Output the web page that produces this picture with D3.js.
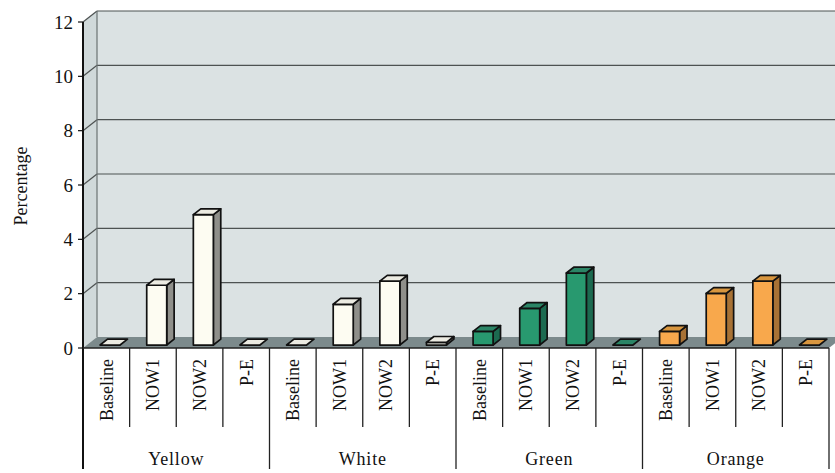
<!DOCTYPE html>
<html>
<head>
<meta charset="utf-8">
<script src="https://cdn.jsdelivr.net/npm/d3@7"></script>
<style>
  html, body { margin: 0; padding: 0; background: #ffffff; }
  svg { display: block; }
  text { font-family: "Liberation Serif", "DejaVu Serif", serif; fill: #111; }
</style>
</head>
<body>
<svg id="chart" width="835" height="473"></svg>
<script>
// Colour groups and the four measurements taken for each
const groups = ["Yellow", "White", "Green", "Orange"];
const measures = ["Baseline", "NOW1", "NOW2", "P-E"];

// Percentage per measurement, one list per colour group
const yellowValues = [0, 2.2, 4.8, 0];
const whiteValues  = [0, 1.5, 2.35, 0.1];
const greenValues  = [0.5, 1.35, 2.65, 0];
const orangeValues = [0.5, 1.9, 2.35, 0];

const yTicks = [0, 2, 4, 6, 8, 10, 12];

// Face colours per group: front, side, top
const faceColors = {
  Yellow: { front: "#fdfcf2", side: "#8f8f8a", top: "#ecebe2" },
  White:  { front: "#fdfcf2", side: "#8f8f8a", top: "#ecebe2" },
  Green:  { front: "#28996f", side: "#1c6a50", top: "#2b8566" },
  Orange: { front: "#f8a84c", side: "#a87235", top: "#d8963f" }
};

const valuesByGroup = {
  Yellow: yellowValues,
  White: whiteValues,
  Green: greenValues,
  Orange: orangeValues
};

const rows = [];
groups.forEach(g => {
  measures.forEach((m, i) => rows.push({ group: g, measure: m, key: g + "|" + m, value: valuesByGroup[g][i] }));
});

const svg = d3.select("#chart");

// Front plane geometry and depth offset of the 3D box
const left = 83, right = 829;
const depthX = 14, depthY = 11;

const y = d3.scaleLinear().domain([0, 12]).range([348, 22]);

const xGroup = d3.scaleBand().domain(groups).range([left, right]).padding(0);
const xSlot = d3.scaleBand().domain(rows.map(d => d.key)).range([left, right]).padding(0);

const poly = pts => pts.map(p => p.join(",")).join(" ");

// ---- walls and floor ----
const y0 = y(0), yTop = y(12);
// back wall
svg.append("polygon")
  .attr("points", poly([[left + depthX, yTop - depthY], [right + depthX + 20, yTop - depthY],
                        [right + depthX + 20, y0 - depthY], [left + depthX, y0 - depthY]]))
  .attr("fill", "#dbe2e3");
// side wall
svg.append("polygon")
  .attr("points", poly([[left, yTop], [left + depthX, yTop - depthY], [left + depthX, y0 - depthY], [left, y0]]))
  .attr("fill", "#d0d9da");
// floor
svg.append("polygon")
  .attr("points", poly([[left, y0], [right, y0], [right + depthX, y0 - depthY], [left + depthX, y0 - depthY]]))
  .attr("fill", "#7c8a8c");

// gridlines on back wall and side wall
const grid = svg.append("g").attr("stroke", "#4d5252").attr("stroke-width", 1.2).attr("fill", "none");
yTicks.filter(v => v > 0).forEach(v => {
  const yy = y(v);
  grid.append("line").attr("x1", left + depthX).attr("x2", 840)
    .attr("y1", yy - depthY).attr("y2", yy - depthY);
  grid.append("line").attr("x1", left).attr("x2", left + depthX)
    .attr("y1", yy).attr("y2", yy - depthY);
});
// back-left vertical edge of the wall
grid.append("line").attr("x1", left + depthX).attr("x2", left + depthX)
  .attr("y1", yTop - depthY).attr("y2", y0 - depthY).attr("stroke", "#6b7272");

// ---- y axis ----
const axis = svg.append("g");
axis.append("line").attr("x1", left).attr("x2", left).attr("y1", yTop).attr("y2", 469)
  .attr("stroke", "#111").attr("stroke-width", 2);
yTicks.forEach(v => {
  axis.append("line").attr("x1", left - 5).attr("x2", left).attr("y1", y(v)).attr("y2", y(v))
    .attr("stroke", "#111").attr("stroke-width", 1.2);
  axis.append("text").attr("x", left - 10).attr("y", y(v)).attr("dy", "0.35em")
    .attr("text-anchor", "end").attr("font-size", 19).text(v);
});
svg.append("text")
  .attr("transform", `translate(21,${186}) rotate(-90)`)
  .attr("text-anchor", "middle").attr("dy", "0.35em").attr("font-size", 18)
  .text("Percentage");

// ---- bars ----
const f0 = 0.27, f1 = 0.80;      // depth position of bar front and back
const faceW = 20;
const bars = svg.append("g").attr("stroke", "#111").attr("stroke-width", 1.7).attr("stroke-linejoin", "round");
rows.forEach(d => {
  const c = faceColors[d.group];
  const cx = xSlot(d.key) + xSlot.bandwidth() / 2 + f0 * depthX;
  const x0 = cx - faceW / 2, x1 = cx + faceW / 2;
  const yb = y(0) - f0 * depthY;
  const yt = y(d.value) - f0 * depthY;
  const ddx = (f1 - f0) * depthX, ddy = (f1 - f0) * depthY;
  const g = bars.append("g");
  if (yb - yt > 0.5) {
    g.append("polygon").attr("points", poly([[x1, yb], [x1 + ddx, yb - ddy], [x1 + ddx, yt - ddy], [x1, yt]]))
      .attr("fill", c.side);
    g.append("polygon").attr("points", poly([[x0, yb], [x1, yb], [x1, yt], [x0, yt]]))
      .attr("fill", c.front);
  }
  g.append("polygon").attr("points", poly([[x0, yt], [x0 + ddx, yt - ddy], [x1 + ddx, yt - ddy], [x1, yt]]))
    .attr("fill", c.top);
});

// ---- category table below the floor ----
const table = svg.append("g").attr("stroke", "#222").attr("stroke-width", 1.3);
table.append("line").attr("x1", left).attr("x2", right).attr("y1", y0).attr("y2", y0);
rows.forEach((d, i) => {
  if (i === 0) return;
  const xx = xSlot(d.key);
  const isGroupEdge = i % measures.length === 0;
  table.append("line").attr("x1", xx).attr("x2", xx).attr("y1", y0).attr("y2", isGroupEdge ? 469 : 427);
});
table.append("line").attr("x1", right).attr("x2", right).attr("y1", y0).attr("y2", 469);

const labels = svg.append("g");
rows.forEach(d => {
  const cx = xSlot(d.key) + xSlot.bandwidth() / 2;
  labels.append("text")
    .attr("transform", `translate(${cx},359) rotate(-90)`)
    .attr("text-anchor", "end").attr("dy", "0.35em").attr("font-size", 18)
    .text(d.measure);
});
groups.forEach(g => {
  labels.append("text")
    .attr("x", xGroup(g) + xGroup.bandwidth() / 2).attr("y", 465)
    .attr("text-anchor", "middle").attr("font-size", 18).attr("letter-spacing", 0.8)
    .text(g);
});
</script>
</body>
</html>
